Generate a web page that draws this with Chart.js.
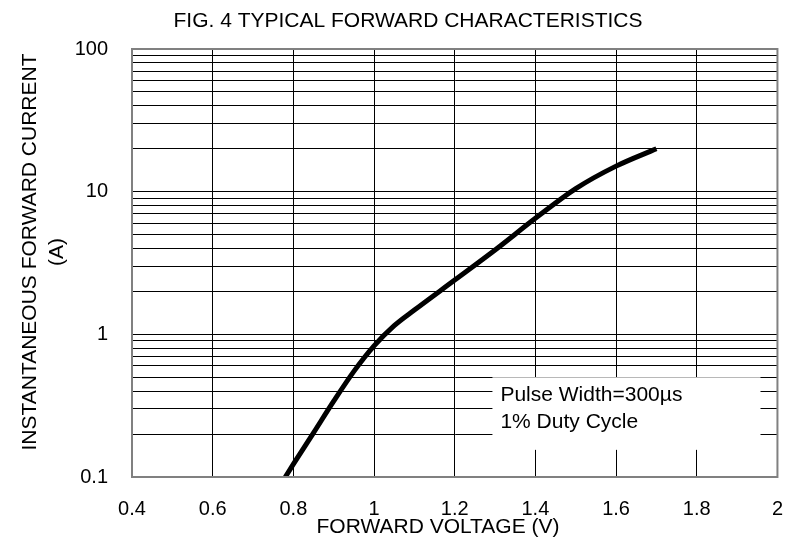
<!DOCTYPE html>
<html>
<head>
<meta charset="utf-8">
<script src="https://cdn.jsdelivr.net/npm/chart.js@4/dist/chart.umd.min.js"></script>
<style>
  html, body { margin: 0; padding: 0; background: #fff; }
  #wrap { width: 803px; height: 541px; position: relative; }
</style>
</head>
<body>
<div id="wrap"><canvas id="c" width="803" height="541"></canvas></div>
<script>
// ---- data ----
const forwardVoltage = [0.78, 0.80, 0.85, 0.90, 0.95, 1.00, 1.05, 1.10, 1.20, 1.30, 1.40, 1.50, 1.60, 1.70];
const forwardCurrent = [0.10, 0.123, 0.204, 0.34, 0.55, 0.83, 1.15, 1.48, 2.40, 3.90, 6.50, 10.5, 15.1, 20.0];
const xTickValues = [0.4, 0.6, 0.8, 1.0, 1.2, 1.4, 1.6, 1.8, 2.0];
const yDecades = [0.1, 1, 10, 100];
const yLabels = ['0.1', '1', '10', '100'];
const chartTitle = 'FIG. 4 TYPICAL FORWARD CHARACTERISTICS';
const xTitle = 'FORWARD VOLTAGE (V)';
const yTitleLines = ['INSTANTANEOUS FORWARD CURRENT', '(A)'];
const noteLines = ['Pulse Width=300\u00B5s', '1% Duty Cycle'];

const FONT = '"Liberation Sans", Arial, sans-serif';

// grid values for log axis (decades + minor)
const yGrid = [];
yDecades.forEach((d, i) => {
  if (i === yDecades.length - 1) { yGrid.push(d); return; }
  for (let m = 1; m <= 9; m++) yGrid.push(+(d * m).toPrecision(3));
});

const points = forwardVoltage.map((v, i) => ({ x: v, y: forwardCurrent[i] }));

const textPlugin = {
  id: 'texts',
  beforeDatasetsDraw(chart) {
    const { ctx, scales } = chart;
    // note box (white, hides grid)
    const x0 = scales.x.getPixelForValue(1.2935);
    const x1 = scales.x.getPixelForValue(1.958);
    const yTop = scales.y.getPixelForValue(0.5);
    const yBot = scales.y.getPixelForValue(0.155);
    ctx.save();
    ctx.fillStyle = '#fff';
    ctx.fillRect(x0, yTop, x1 - x0, yBot - yTop);
    ctx.fillStyle = '#000';
    ctx.font = '21px ' + FONT;
    ctx.textBaseline = 'middle';
    ctx.textAlign = 'left';
    ctx.fillText(noteLines[0], x0 + 8, yTop + 18);
    ctx.fillText(noteLines[1], x0 + 8, yTop + 45);
    ctx.restore();
  },
  afterDraw(chart) {
    const { ctx, chartArea } = chart;
    ctx.save();
    ctx.fillStyle = '#000';
    ctx.font = '21px ' + FONT;
    ctx.textBaseline = 'middle';
    ctx.textAlign = 'center';
    ctx.fillText(chartTitle, 408, 21);
    ctx.fillText(xTitle, 438, 527);
    const cy = (chartArea.top + chartArea.bottom) / 2 - 11;
    ctx.translate(30, cy);
    ctx.rotate(-Math.PI / 2);
    ctx.fillText(yTitleLines[0], 0, 0);
    ctx.fillText(yTitleLines[1], 0, 27);
    ctx.restore();
  }
};

new Chart(document.getElementById('c'), {
  type: 'line',
  data: {
    datasets: [{
      data: points,
      borderColor: '#000',
      borderWidth: 5,
      pointRadius: 0,
      fill: false,
      cubicInterpolationMode: 'monotone',
      borderCapStyle: 'butt'
    }]
  },
  options: {
    responsive: false,
    animation: false,
    devicePixelRatio: 1,
    layout: { padding: { top: 49, right: 21, left: 0, bottom: 0 } },
    plugins: { legend: { display: false }, title: { display: false }, tooltip: { enabled: false } },
    scales: {
      x: {
        type: 'linear', min: 0.4, max: 2,
        afterBuildTicks: (s) => { s.ticks = xTickValues.map(v => ({ value: v })); },
        afterFit: (s) => { s.height = 64; },
        ticks: {
          color: '#000', font: { family: FONT, size: 20 }, padding: 20,
          maxRotation: 0, autoSkip: false,
          callback: (v) => String(+v.toFixed(1))
        },
        grid: { color: '#000', lineWidth: 1, drawTicks: false },
        border: { color: '#808080', width: 2 }
      },
      y: {
        type: 'logarithmic', min: 0.1, max: 100,
        afterBuildTicks: (s) => { s.ticks = yGrid.map(v => ({ value: v })); },
        afterFit: (s) => { s.width = 132; },
        ticks: {
          color: '#000', font: { family: FONT, size: 20 }, padding: 24, autoSkip: false,
          callback: (v) => {
            const i = yDecades.findIndex(d => Math.abs(d - v) < 1e-9);
            return i >= 0 ? yLabels[i] : '';
          }
        },
        grid: { color: '#000', lineWidth: 1, drawTicks: false },
        border: { color: '#808080', width: 2 }
      }
    }
  },
  plugins: [textPlugin, {
    id: 'frame',
    afterDatasetsDraw(chart) {
      const { ctx, chartArea: a } = chart;
      ctx.save();
      ctx.strokeStyle = '#808080';
      ctx.lineWidth = 2;
      ctx.strokeRect(a.left, a.top, a.right - a.left, a.bottom - a.top);
      ctx.restore();
    }
  }]
});
</script>
</body>
</html>
